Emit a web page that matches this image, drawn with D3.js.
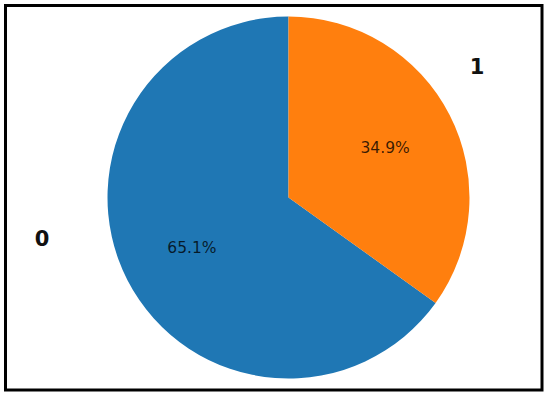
<!DOCTYPE html>
<html>
<head>
<meta charset="utf-8">
<script src="https://cdn.jsdelivr.net/npm/d3@7"></script>
<style>
  html, body { margin: 0; padding: 0; background: #fff; }
  svg { display: block; }
</style>
</head>
<body>
<div id="chart"></div>
<script>
// Data
const categories = ["0", "1"];
const values = [65.1, 34.9];
const colors = ["#1f77b4", "#ff7f0e"];

function draw() {
  const data = categories.map((c, i) => ({ label: c, value: values[i] }));

  // Dimensions
  const dimensions = {
    width: 550,
    height: 398,
    cx: 288.5,
    cy: 197.5,
    radius: 181,
  };

  const svg = d3
    .select("#chart")
    .append("svg")
    .attr("width", dimensions.width)
    .attr("height", dimensions.height);

  // Frame
  svg
    .append("rect")
    .attr("x", 5.5)
    .attr("y", 5.5)
    .attr("width", 536.5)
    .attr("height", 384.5)
    .attr("fill", "none")
    .attr("stroke", "#000")
    .attr("stroke-width", 3);

  const ctr = svg
    .append("g")
    .attr("transform", `translate(${dimensions.cx}, ${dimensions.cy})`);

  const color = d3.scaleOrdinal().domain(categories).range(colors);

  // matplotlib style: start at top, counter-clockwise
  const pie = d3
    .pie()
    .sort(null)
    .value((d) => d.value)
    .startAngle(0)
    .endAngle(-2 * Math.PI);

  const arcs = pie(data);

  const arc = d3.arc().innerRadius(0).outerRadius(dimensions.radius);
  const pctArc = d3
    .arc()
    .innerRadius(dimensions.radius * 0.6)
    .outerRadius(dimensions.radius * 0.6);

  ctr
    .selectAll("path")
    .data(arcs)
    .join("path")
    .attr("d", arc)
    .attr("fill", (d) => color(d.data.label));

  // Percent labels
  ctr
    .selectAll("text.pct")
    .data(arcs)
    .join("text")
    .attr("class", "pct")
    .attr("transform", (d) => `translate(${pctArc.centroid(d)})`)
    .attr("text-anchor", "middle")
    .attr("dy", "0.36em")
    .attr("font-family", "DejaVu Sans, sans-serif")
    .attr("font-size", 15.5)
    .attr("fill", "#000")
    .attr("fill-opacity", 0.78)
    .text((d) => d3.format(".1f")(d.data.value) + "%");

  // Category labels
  const labelPos = { "0": [42, 246], "1": [477, 74] };
  svg
    .selectAll("text.cat")
    .data(data)
    .join("text")
    .attr("class", "cat")
    .attr("x", (d) => labelPos[d.label][0])
    .attr("y", (d) => labelPos[d.label][1])
    .attr("text-anchor", "middle")
    .attr("font-family", "DejaVu Sans, sans-serif")
    .attr("font-weight", "bold")
    .attr("font-size", 21)
    .attr("fill", "#111")
    .text((d) => d.label);
}

draw();
</script>
</body>
</html>
